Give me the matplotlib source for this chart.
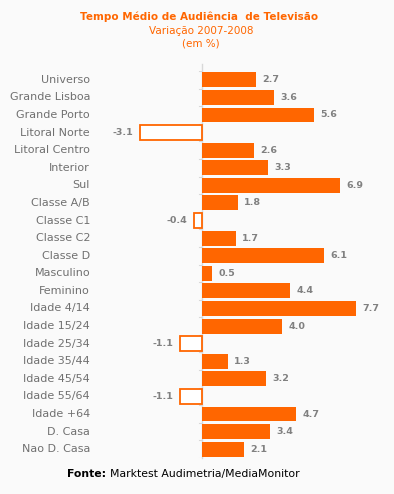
import matplotlib.pyplot as plt
from matplotlib.transforms import blended_transform_factory

categories = ["Universo", "Grande Lisboa", "Grande Porto", "Litoral Norte",
              "Litoral Centro", "Interior", "Sul", "Classe A/B", "Classe C1",
              "Classe C2", "Classe D", "Masculino", "Feminino", "Idade 4/14",
              "Idade 15/24", "Idade 25/34", "Idade 35/44", "Idade 45/54",
              "Idade 55/64", "Idade +64", "D. Casa", "Nao D. Casa"]
values = [2.7, 3.6, 5.6, -3.1, 2.6, 3.3, 6.9, 1.8, -0.4, 1.7, 6.1, 0.5,
          4.4, 7.7, 4.0, -1.1, 1.3, 3.2, -1.1, 4.7, 3.4, 2.1]

orange = '#FF6600'
bg = '#FAFAFA'

fig = plt.figure(figsize=(3.94, 4.94), dpi=100, facecolor=bg)
W, H = 394, 494
ax = fig.add_axes([100 / W, 36 / H, 280 / W, 387 / H], facecolor=bg)

ypos = list(range(len(categories)))
for y, v in zip(ypos, values):
    if v >= 0:
        ax.barh(y, v, height=0.85, color=orange, edgecolor='none', zorder=2)
        ax.text(v + 0.32, y, f"{v:.1f}", va='center', ha='left',
                fontsize=6.8, fontweight='bold', color='#808080')
    else:
        ax.barh(y, v, height=0.85, color='white', edgecolor=orange, linewidth=1.3, zorder=2)
        ax.text(v - 0.35, y, f"{v:.1f}", va='center', ha='right',
                fontsize=6.8, fontweight='bold', color='#808080')

ax.set_xlim(-5.1, 8.9)
ax.set_ylim(len(categories) - 0.5, -0.5)
ax.plot([0, 0], [-0.9, len(categories) - 0.5], color='#D8D8D8', lw=1, zorder=1, clip_on=False)
for b in range(len(categories) + 1):
    ax.plot([-0.15, 0], [b - 0.5, b - 0.5], color='#D8D8D8', lw=0.8, zorder=1)

trans = blended_transform_factory(ax.transAxes, ax.transData)
for y, c in zip(ypos, categories):
    ax.text(-10 / 280, y, c, transform=trans, ha='right', va='center',
            fontsize=8, color='#707070')

ax.set_xticks([])
ax.set_yticks([])
for s in ax.spines.values():
    s.set_visible(False)

fig.text(199 / W, 1 - 17 / H, "Tempo Médio de Audiência  de Televisão", ha='center',
         va='center', fontsize=7.5, fontweight='bold', color=orange)
fig.text(201 / W, 1 - 31 / H, "Variação 2007-2008", ha='center', va='center',
         fontsize=7.5, color=orange)
fig.text(201 / W, 1 - 44 / H, "(em %)", ha='center', va='center',
         fontsize=7.5, color=orange)

t1 = fig.text(67 / W, 1 - 474 / H, "Fonte:", ha='left', va='center',
              fontsize=7.8, fontweight='bold', color='black')
r = fig.canvas.get_renderer()
x_end = t1.get_window_extent(r).x1
fig.text((x_end + 4) / W, 1 - 474 / H, "Marktest Audimetria/MediaMonitor", ha='left',
         va='center', fontsize=7.8, color='black')

fig.savefig('out.png', dpi=100, facecolor=bg)
